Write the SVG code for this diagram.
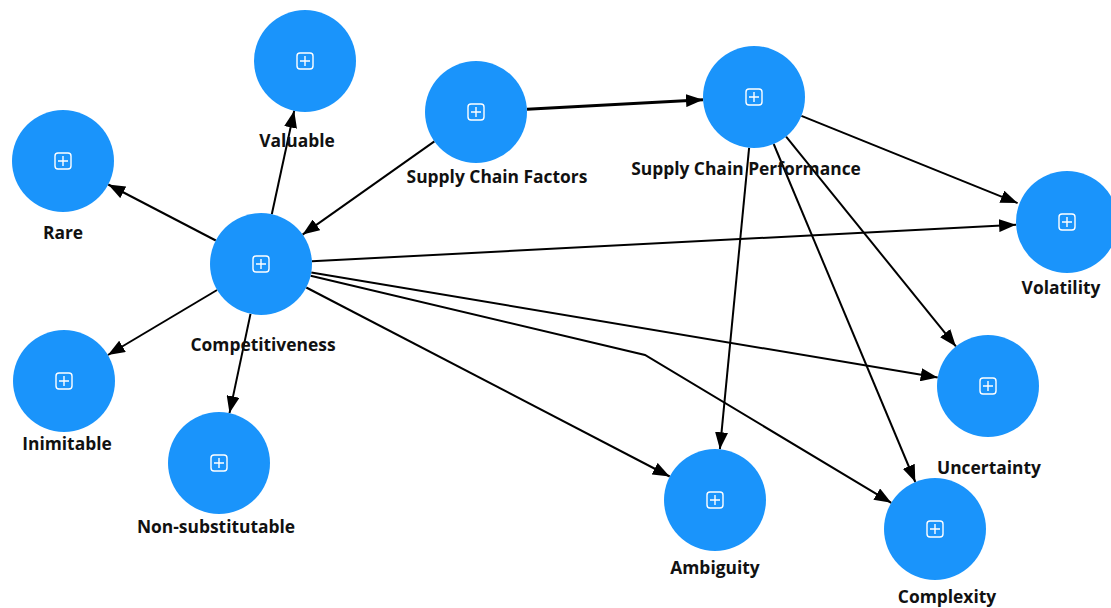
<svg xmlns="http://www.w3.org/2000/svg" width="1111" height="608" viewBox="0 0 1111 608">
<style>
.n{fill:#1a94fb}
.ic{fill:none;stroke:#fff;stroke-width:1.4}
.lb{font-family:"Open Sans","Noto Sans",sans-serif;font-weight:700;font-size:17.4px;fill:#111;text-anchor:middle}
.e{fill:none;stroke:#000;stroke-width:2;marker-end:url(#ah)}
.e3{fill:none;stroke:#000;stroke-width:3;marker-end:url(#ah2)}
</style>
<defs>
<marker id="ah" viewBox="0 0 17 13" refX="17" refY="6.5" markerWidth="17" markerHeight="13" markerUnits="userSpaceOnUse" orient="auto">
<path d="M0,0 L17,6.5 L0,13 Z" fill="#000"/>
</marker>
<marker id="ah2" viewBox="0 0 17 13" refX="17" refY="6.5" markerWidth="17" markerHeight="13" markerUnits="userSpaceOnUse" orient="auto">
<path d="M0,0 L17,6.5 L0,13 Z" fill="#000"/>
</marker>
<g id="icon">
<rect x="-8" y="-8" width="16" height="16" rx="3" class="ic"/>
<path d="M-5,0 H5 M0,-5 V5" class="ic"/>
</g>
</defs>
<g id="connectors">
<path class="e3" d="M527,109.3 L703,99.7"/>
<path class="e" d="M434.4,141.4 L302.6,234.6"/>
<path class="e" d="M271.8,214.2 L294.2,110.8"/>
<path class="e" d="M215.8,240.5 L108.2,184.5"/>
<path class="e" d="M217.1,290 L107.9,355"/>
<path class="e" d="M250.5,313.9 L229.5,413.1"/>
<path class="e" d="M311.9,261.3 L1016.1,224.7"/>
<path class="e" d="M311.3,272.4 L937.7,377.6"/>
<path class="e" d="M306.3,287.5 L669.7,476.5"/>
<path class="e" d="M310.6,275.8 L645,355 L891.3,502.8"/>
<path class="e" d="M801.4,115.9 L1017.6,203.1"/>
<path class="e" d="M786.1,136.6 L955.9,346.4"/>
<path class="e" d="M749.1,147.8 L719.9,449.2"/>
<path class="e" d="M773.7,144 L915.3,482"/>
</g>
<g id="valuable"><circle class="n" cx="305" cy="61" r="51"/><use href="#icon" x="305" y="61"/><text class="lb" x="297" y="147">Valuable</text></g>
<g id="rare"><circle class="n" cx="63" cy="161" r="51"/><use href="#icon" x="63" y="161"/><text class="lb" x="63" y="239">Rare</text></g>
<g id="scf"><circle class="n" cx="476" cy="112" r="51"/><use href="#icon" x="476" y="112"/><text class="lb" x="497" y="183">Supply Chain Factors</text></g>
<g id="scp"><circle class="n" cx="754" cy="97" r="51"/><use href="#icon" x="754" y="97"/><text class="lb" x="746" y="175">Supply Chain Performance</text></g>
<g id="competitiveness"><circle class="n" cx="261" cy="264" r="51"/><use href="#icon" x="261" y="264"/><text class="lb" x="263" y="351">Competitiveness</text></g>
<g id="volatility"><circle class="n" cx="1067" cy="222" r="51"/><use href="#icon" x="1067" y="222"/><text class="lb" x="1061" y="294">Volatility</text></g>
<g id="inimitable"><circle class="n" cx="64" cy="381" r="51"/><use href="#icon" x="64" y="381"/><text class="lb" x="67" y="450">Inimitable</text></g>
<g id="nonsub"><circle class="n" cx="219" cy="463" r="51"/><use href="#icon" x="219" y="463"/><text class="lb" x="216" y="533">Non-substitutable</text></g>
<g id="uncertainty"><circle class="n" cx="988" cy="386" r="51"/><use href="#icon" x="988" y="386"/><text class="lb" x="989" y="474">Uncertainty</text></g>
<g id="ambiguity"><circle class="n" cx="715" cy="500" r="51"/><use href="#icon" x="715" y="500"/><text class="lb" x="715" y="574">Ambiguity</text></g>
<g id="complexity"><circle class="n" cx="935" cy="529" r="51"/><use href="#icon" x="935" y="529"/><text class="lb" x="947" y="603">Complexity</text></g>
</svg>
